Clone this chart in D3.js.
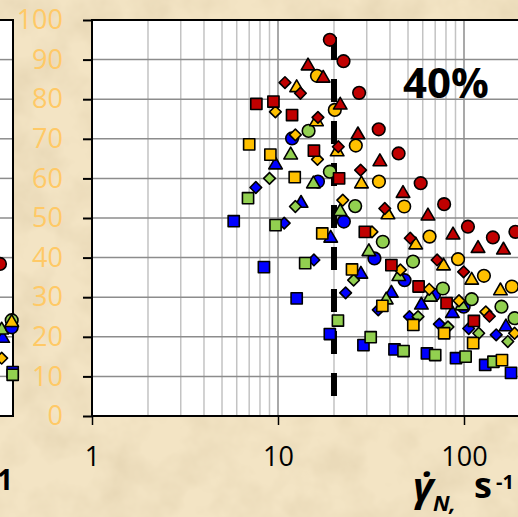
<!DOCTYPE html>
<html>
<head>
<meta charset="utf-8">
<script src="https://cdn.jsdelivr.net/npm/d3@7"></script>
<style>
  html, body { margin: 0; padding: 0; background: #efdcb5; }
  svg { display: block; }
</style>
</head>
<body>
<div id="root"></div>
<script>
// ticks
const xTicks = [1, 10, 100];
const xTickLabels = ["1", "10", "100"];
const yTicks = [0, 10, 20, 30, 40, 50, 60, 70, 80, 90, 100];
const xMajorGrid = [1, 10, 100, 1000];
const xMinorGrid = [2, 3, 4, 5, 6, 7, 8, 9, 20, 30, 40, 50, 60, 70, 80, 90, 200, 300, 400, 500, 600, 700, 800, 900];

// shear rate (1/s), value (%) for each series
const redCircle = [[19, 95], [22.5, 89.6], [27.3, 81.6], [34.8, 72.4], [44.5, 66.3], [58.5, 58.8], [78.2, 53.5], [105, 47.8], [143, 45.1], [189, 46.5]];
const redTriangle = [[14.5, 88.4], [17.5, 85.3], [21.6, 78.5], [26.9, 71], [35.3, 64.2], [47, 56.2], [64, 50.5], [87.3, 45.7], [119, 42.3], [163, 41.9]];
const redDiamond = [[10.9, 84.2], [13.2, 81.5], [16.4, 75.4], [21.1, 68], [27.8, 62.1], [37.5, 52.4], [51.4, 44.9], [71.7, 39.4], [99.5, 36.4], [137, 25.2]];
const redSquare = [[7.65, 78.8], [9.45, 79.4], [11.9, 76], [15.6, 67], [21.3, 60], [29.3, 46.5], [40.7, 38.1], [57, 32.7], [80.6, 28.5], [113, 24]];

const yellowCircle = [[16.2, 85.9], [20.2, 77.3], [26.2, 68.3], [34.9, 59.2], [47.7, 52.9], [65.3, 45.3], [92.9, 39.6], [128, 35.4], [181, 32.7]];
const yellowTriangle = [[12.6, 82.9], [16.1, 74.3], [20.8, 66.7], [28.1, 58.6], [39, 50.8], [55, 43.2], [77.6, 37.9], [110, 34.3], [157, 31.6]];
const yellowDiamond = [[9.68, 76.8], [12.4, 71], [16.3, 64.8], [22.3, 54.5], [32, 46.5], [45.5, 36.9], [65, 32], [94, 29.1], [131, 26.3], [187, 20.9]];
const yellowSquare = [[7, 68.6], [9.1, 66], [12.3, 60.3], [17.3, 46.1], [25, 37], [36.4, 27.8], [53.4, 23], [78.2, 20.9], [112, 18.4], [160, 14.1]];

const greenCircle = [[14.6, 72], [19, 61.7], [26, 53], [36.6, 44], [53.2, 39], [77, 32.2], [110, 29.5], [159, 27.6], [187, 24.7]];
const greenTriangle = [[11.7, 65.9], [15.5, 58.6], [21.6, 51.6], [30.8, 41.5], [44.6, 35.2], [38.2, 29.3], [66, 30], [97.5, 27.8]];
const greenDiamond = [[9.0, 60], [12.4, 52.9], [25.5, 34.3], [56.6, 25.1], [82, 22.5], [120, 20.9], [172, 18.8]];
const greenSquare = [[6.9, 55], [9.7, 48.2], [14, 38.6], [21, 24.1], [31.5, 19.9], [47.3, 16.4], [70, 15.4], [102, 15], [144, 13.7]];

const blueCircle = [[11.9, 70.1], [16.4, 59.2], [22.6, 49.1], [33, 39.8], [47.9, 34.3], [69, 30.6], [99.6, 27.6]];
const blueTriangle = [[9.7, 63.4], [13.3, 53.7], [19.2, 44.9], [27.9, 35.8], [40.7, 31], [59, 28], [86.6, 25.9], [168, 22.5]];
const blueDiamond = [[7.6, 57.7], [10.8, 48.7], [15.6, 39.4], [23.1, 31.1], [34.6, 26.8], [50.9, 25.1], [73.7, 23.2], [106, 22.1], [149, 20.5]];
const blueSquare = [[5.78, 49.2], [8.4, 37.6], [12.6, 29.7], [19, 20.7], [28.8, 17.9], [42.3, 16.8], [63.2, 15.8], [90.6, 14.6], [130, 12.9], [179, 10.9]];

// neighbouring panel (only its right edge is in view)
const leftRedCircle = [[851, 38.4]];
const leftBlueTriangle = [[880, 19.6]];
const leftGreenTriangle = [[869, 21.7]];
const leftBlueCircle = [[984, 22.4]];
const leftGreenCircle = [[984, 24.2]];
const leftYellowTriangle = [[984, 23.6]];
const leftYellowDiamond = [[869, 14.6]];
const leftBlueSquare = [[996, 11.1]];
const leftGreenSquare = [[996, 10.4]];

// critical shear rate marker
const criticalRate = 20;
const criticalSpan = [95.7, 4.8];
const panelLabel = "40%";

const width = 518;
const height = 517;
const plot = { left: 92, top: 20, bottom: 416 };
const decade = 186;

const colors = { red: "#c00000", yellow: "#ffc000", green: "#92d050", blue: "#0000ff" };
const symbolTypes = { circle: d3.symbolCircle, triangle: d3.symbolTriangle, diamond: d3.symbolSquare, square: d3.symbolSquare };
const symbolSizes = { circle: 125, triangle: 80, diamond: 68, square: 125 };

// blue drawn first, red on top
const series = [
  { data: blueSquare, color: "blue", shape: "square" },
  { data: blueDiamond, color: "blue", shape: "diamond" },
  { data: blueTriangle, color: "blue", shape: "triangle" },
  { data: blueCircle, color: "blue", shape: "circle" },
  { data: greenSquare, color: "green", shape: "square" },
  { data: greenDiamond, color: "green", shape: "diamond" },
  { data: greenTriangle, color: "green", shape: "triangle" },
  { data: greenCircle, color: "green", shape: "circle" },
  { data: yellowSquare, color: "yellow", shape: "square" },
  { data: yellowDiamond, color: "yellow", shape: "diamond" },
  { data: yellowTriangle, color: "yellow", shape: "triangle" },
  { data: yellowCircle, color: "yellow", shape: "circle" },
  { data: redSquare, color: "red", shape: "square" },
  { data: redDiamond, color: "red", shape: "diamond" },
  { data: redTriangle, color: "red", shape: "triangle" },
  { data: redCircle, color: "red", shape: "circle" },
];

const leftSeries = [
  { data: leftRedCircle, color: "red", shape: "circle" },
  { data: leftBlueTriangle, color: "blue", shape: "triangle" },
  { data: leftGreenTriangle, color: "green", shape: "triangle" },
  { data: leftBlueCircle, color: "blue", shape: "circle" },
  { data: leftGreenCircle, color: "green", shape: "circle" },
  { data: leftYellowTriangle, color: "yellow", shape: "triangle" },
  { data: leftYellowDiamond, color: "yellow", shape: "diamond" },
  { data: leftBlueSquare, color: "blue", shape: "square" },
  { data: leftGreenSquare, color: "green", shape: "square" },
];

const x = d3.scaleLog().domain([1, 1000]).range([plot.left, plot.left + 3 * decade]);
const y = d3.scaleLinear().domain([0, 100]).range([plot.bottom, plot.top]);
// left panel ends at x = 13
const xLeft = d3.scaleLog().domain([1, 1000]).range([13 - 3 * decade, 13]);

const svg = d3.select("#root")
  .append("svg")
  .attr("width", width)
  .attr("height", height)
  .attr("viewBox", `0 0 ${width} ${height}`);

// parchment background
const defs = svg.append("defs");
const paper = defs.append("filter").attr("id", "paper").attr("x", 0).attr("y", 0).attr("width", "100%").attr("height", "100%");
paper.append("feTurbulence").attr("type", "fractalNoise").attr("baseFrequency", 0.022).attr("numOctaves", 4).attr("seed", 7);
paper.append("feColorMatrix").attr("type", "matrix")
  .attr("values", "0 0 0 0 0.66  0 0 0 0 0.54  0 0 0 0 0.34  0.8 0 0 0 -0.3");

svg.append("rect").attr("width", width).attr("height", height).attr("fill", "#f3e4c4");
svg.append("rect").attr("width", width).attr("height", height).attr("filter", "url(#paper)");

function drawMarks(g, list, xs) {
  list.forEach((s) => {
    const sym = d3.symbol().type(symbolTypes[s.shape]).size(symbolSizes[s.shape]);
    g.append("g")
      .selectAll("path")
      .data(s.data)
      .join("path")
      .attr("d", sym)
      .attr("transform", (d) => `translate(${xs(d[0])},${y(d[1])})` + (s.shape === "diamond" ? " rotate(45)" : ""))
      .attr("fill", colors[s.color])
      .attr("stroke", "#000")
      .attr("stroke-width", 1.6)
      .attr("stroke-linejoin", "round");
  });
}

// left panel
const leftPanel = svg.append("g");
leftPanel.append("rect")
  .attr("x", -10).attr("y", plot.top)
  .attr("width", 23).attr("height", plot.bottom - plot.top)
  .attr("fill", "#fff");
leftPanel.append("g")
  .selectAll("line")
  .data(yTicks.slice(1, -1))
  .join("line")
  .attr("x1", -10).attr("x2", 13)
  .attr("y1", (d) => y(d)).attr("y2", (d) => y(d))
  .attr("stroke", "#8c8c8c").attr("stroke-width", 1.5);
leftPanel.append("rect")
  .attr("x", -10).attr("y", plot.top)
  .attr("width", 23).attr("height", plot.bottom - plot.top)
  .attr("fill", "none").attr("stroke", "#000").attr("stroke-width", 2);
drawMarks(leftPanel, leftSeries, xLeft);
leftPanel.append("text")
  .attr("x", 13).attr("y", 490)
  .attr("text-anchor", "end")
  .attr("font-family", "Open Sans")
  .attr("font-weight", "bold")
  .attr("font-size", 28)
  .text("1");

// main plot
const plotRight = x(1000);
svg.append("rect")
  .attr("x", plot.left).attr("y", plot.top)
  .attr("width", plotRight - plot.left).attr("height", plot.bottom - plot.top)
  .attr("fill", "#fff");

// grid
svg.append("g")
  .selectAll("line")
  .data(xMinorGrid)
  .join("line")
  .attr("x1", (d) => x(d)).attr("x2", (d) => x(d))
  .attr("y1", plot.top).attr("y2", plot.bottom)
  .attr("stroke", "#c3c3c3").attr("stroke-width", 1.5);
svg.append("g")
  .selectAll("line")
  .data(xMajorGrid)
  .join("line")
  .attr("x1", (d) => x(d)).attr("x2", (d) => x(d))
  .attr("y1", plot.top).attr("y2", plot.bottom)
  .attr("stroke", "#8c8c8c").attr("stroke-width", 1.5);
svg.append("g")
  .selectAll("line")
  .data(yTicks)
  .join("line")
  .attr("x1", plot.left).attr("x2", plotRight)
  .attr("y1", (d) => y(d)).attr("y2", (d) => y(d))
  .attr("stroke", "#8c8c8c").attr("stroke-width", 1.5);

// axes
const yAxis = svg.append("g")
  .attr("transform", `translate(${plot.left},0)`)
  .call(d3.axisLeft(y).tickValues(yTicks).tickSize(9).tickPadding(20));
yAxis.select(".domain").remove();
yAxis.selectAll(".tick line").attr("stroke", "#000").attr("stroke-width", 2);
yAxis.selectAll(".tick text")
  .attr("fill", "#ffc966")
  .attr("font-family", "Open Sans")
  .attr("font-size", 27);

const xAxis = svg.append("g")
  .attr("transform", `translate(0,${plot.bottom})`)
  .call(d3.axisBottom(x).tickValues(xTicks).tickFormat((d, i) => xTickLabels[i]).tickSize(9).tickPadding(22));
xAxis.select(".domain").remove();
xAxis.selectAll(".tick line").attr("stroke", "#000").attr("stroke-width", 1.5);
xAxis.selectAll(".tick text")
  .attr("fill", "#000")
  .attr("font-family", "Open Sans")
  .attr("font-size", 27);

// frame
svg.append("rect")
  .attr("x", plot.left).attr("y", plot.top)
  .attr("width", plotRight - plot.left).attr("height", plot.bottom - plot.top)
  .attr("fill", "none").attr("stroke", "#000").attr("stroke-width", 2);

// critical shear rate
svg.append("line")
  .attr("x1", x(criticalRate)).attr("x2", x(criticalRate))
  .attr("y1", y(criticalSpan[0])).attr("y2", y(criticalSpan[1]))
  .attr("stroke", "#000")
  .attr("stroke-width", 6)
  .attr("stroke-dasharray", "23 19");

drawMarks(svg.append("g"), series, x);

// panel label
svg.append("text")
  .attr("x", 446).attr("y", 98)
  .attr("text-anchor", "middle")
  .attr("font-family", "Open Sans")
  .attr("font-weight", "bold")
  .attr("font-size", 42)
  .text(panelLabel);

// x axis title
const title = svg.append("text")
  .attr("font-family", "Open Sans")
  .attr("font-weight", "bold")
  .attr("fill", "#000");
title.append("tspan").attr("x", 413).attr("y", 501).attr("font-size", 40).attr("font-style", "italic").text("γ\u0307");
title.append("tspan").attr("x", 433).attr("y", 511).attr("font-size", 22).attr("font-style", "italic").text("N,");
title.append("tspan").attr("x", 474).attr("y", 498).attr("font-size", 36).text("s");
title.append("tspan").attr("x", 496).attr("y", 489).attr("font-size", 20).text("-1");
</script>
</body>
</html>
